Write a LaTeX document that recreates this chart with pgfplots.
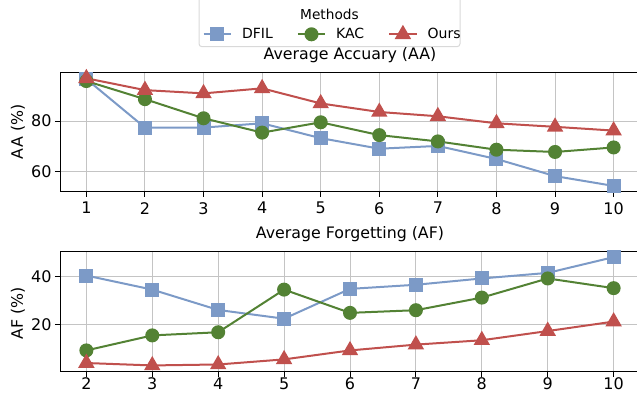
\documentclass[border=0pt]{standalone}
\usepackage{pgfplots}
\pgfplotsset{compat=1.18}
\usepackage{fontspec}
\setmainfont{DejaVu Sans}
\definecolor{cblue}{RGB}{124,154,199}
\definecolor{cgreen}{RGB}{83,130,52}
\definecolor{cred}{RGB}{192,80,77}
\definecolor{gridc}{RGB}{196,196,196}
\pgfplotsset{
 myax/.style={
  scale only axis, width=580bp, height=119.7bp,
  axis line style={black, line width=1bp},
  grid=major, grid style={gridc, line width=1bp},
  tick align=outside, major tick length=5bp,
  tick style={black, line width=1bp},
  xtick pos=bottom, ytick pos=left,
  tick label style={font=\fontsize{16bp}{19bp}\selectfont},
  /pgf/number format/assume math mode=true,
  title style={font=\fontsize{15.8bp}{18bp}\selectfont, at={(0.5,1)}, anchor=base, yshift=7bp},
  every axis y label/.style={at={(rel axis cs:0,0.5)}, xshift=-42bp, rotate=90, anchor=center, font=\fontsize{15.8bp}{18bp}\selectfont},
  every axis plot/.append style={line width=2bp, mark options={solid}},
  legend image code/.code={\draw[mark repeat=2, mark phase=2] plot coordinates {(0bp,0bp) (13.7bp,0bp) (27.4bp,0bp)};},
 },
 sDFIL/.style={cblue, mark=square*, mark size=6bp},
 sKAC/.style={cgreen, mark=*, mark size=6bp},
 sOurs/.style={cred, mark=triangle*, mark size=7.5bp},
}
\begin{document}
\begin{tikzpicture}
\draw[draw=gray!30, fill=white, rounded corners=3bp, line width=1bp] (199bp,4bp) rectangle (460bp,-46.7bp);
\node[anchor=base, font=\fontsize{13.7bp}{16bp}\selectfont] at (329.5bp,-19bp) {Methods};
\begin{axis}[myax, at={(60bp,-191.7bp)}, anchor=south west,
  xmin=0.55, xmax=10.45, ymin=51.9, ymax=99.5,
  xtick={1,2,3,4,5,6,7,8,9,10}, ytick={60,80},
  xticklabel style={yshift=-2bp},
  title={Average Accuary (AA)}, ylabel={AA (\%)},
  legend columns=3,
  legend style={at={(axis description cs:0.47,1.315)}, anchor=center, draw=none, fill=none,
    font=\fontsize{14bp}{16bp}\selectfont,
    /tikz/every odd column/.append style={column sep=8bp},
    /tikz/every even column/.append style={column sep=22bp}},
]
\addplot[sDFIL] coordinates {(1,96.7) (2,77.4) (3,77.4) (4,79.1) (5,73.2) (6,69.0) (7,70.1) (8,64.9) (9,58.1) (10,54.2)};
\addlegendentry{DFIL}
\addplot[sKAC] coordinates {(1,95.9) (2,88.7) (3,81.1) (4,75.4) (5,79.5) (6,74.4) (7,71.9) (8,68.6) (9,67.7) (10,69.5)};
\addlegendentry{KAC}
\addplot[sOurs] coordinates {(1,97.0) (2,92.3) (3,91.0) (4,93.0) (5,87.0) (6,83.6) (7,81.9) (8,79.1) (9,77.7) (10,76.2)};
\addlegendentry{Ours}
\end{axis}
\begin{axis}[myax, at={(60bp,-371.5bp)}, anchor=south west,
  xmin=1.6, xmax=10.4, ymin=0.8, ymax=50.2,
  xtick={2,3,4,5,6,7,8,9,10}, ytick={20,40},
  xticklabel style={yshift=0bp, inner ysep=1bp},
  title={Average Forgetting (AF)}, ylabel={AF (\%)},
  every axis y label/.append style={xshift=-2bp},
]
\addplot[sDFIL] coordinates {(2,40.4) (3,34.6) (4,26.2) (5,22.6) (6,34.9) (7,36.6) (8,39.2) (9,41.5) (10,48.0)};
\addplot[sKAC] coordinates {(2,9.5) (3,15.7) (4,17.0) (5,34.6) (6,25.0) (7,26.1) (8,31.3) (9,39.2) (10,35.2)};
\addplot[sOurs] coordinates {(2,4.3) (3,3.3) (4,3.7) (5,5.8) (6,9.5) (7,11.9) (8,13.7) (9,17.5) (10,21.4)};
\end{axis}
\pgfresetboundingbox
\useasboundingbox (0bp,0bp) rectangle (637bp,-394bp);
\end{tikzpicture}
\end{document}
